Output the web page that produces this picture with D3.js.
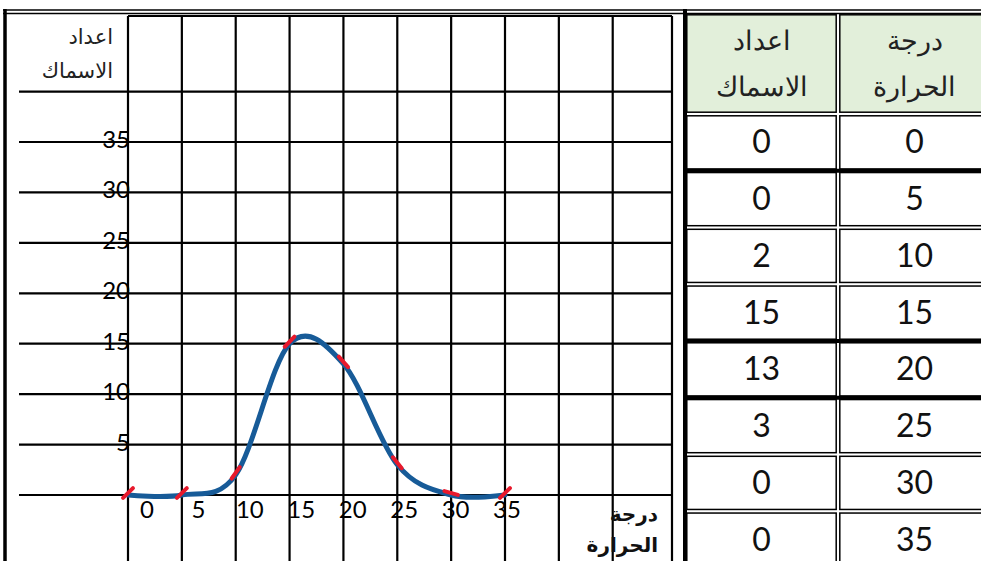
<!DOCTYPE html>
<html>
<head>
<meta charset="utf-8">
<script src="https://cdn.jsdelivr.net/npm/d3@7"></script>
<style>
  body { margin: 0; background: #fff; }
  svg { display: block; }
  text { font-family: Lato, "DejaVu Sans", sans-serif; }
  .ar { font-family: "DejaVu Sans", sans-serif; }
</style>
</head>
<body>
<svg id="chart" width="981" height="561"></svg>
<script>
// data from the table
const temps = [0, 5, 10, 15, 20, 25, 30, 35];
const fishCounts = [0, 0, 2, 15, 13, 3, 0, 0];

// axis / grid values
const xTickLabels = [0, 5, 10, 15, 20, 25, 30, 35];
const yTickLabels = [5, 10, 15, 20, 25, 30, 35];
const xGrid = [0, 5, 10, 15, 20, 25, 30, 35, 40, 45];
const yGrid = [0, 5, 10, 15, 20, 25, 30, 35, 40];

const yTitle = ["اعداد", "الاسماك"];
const xTitle = ["درجة", "الحرارة"];
const tableHead = [["اعداد", "الاسماك"], ["درجة", "الحرارة"]];

const svg = d3.select("#chart");
const W = 981, H = 561;

// ---- plot area ----
const plotLeft = 128, plotRight = 672, plotTop = 16, gridLeft = 19;
const x = d3.scaleLinear().domain([0, 35]).range([128, 505]);
const y = d3.scaleLinear().domain([0, 35]).range([495, 142]);
// the typed tick labels sit a little right of the grid lines
const xLab = d3.scaleLinear().domain([0, 35]).range([147, 507]);

// outer frame
svg.append("line").attr("x1", 5).attr("x2", 5).attr("y1", 9).attr("y2", H)
  .attr("stroke", "#000").attr("stroke-width", 3.5);
[10, 13.5].forEach(yy => {
  svg.append("line").attr("x1", 3).attr("x2", W).attr("y1", yy).attr("y2", yy)
    .attr("stroke", "#000").attr("stroke-width", 1.6);
});

const grid = svg.append("g").attr("stroke", "#000").attr("stroke-width", 2.2);
grid.selectAll(".h").data(yGrid).enter().append("line")
  .attr("x1", gridLeft).attr("x2", plotRight)
  .attr("y1", d => y(d)).attr("y2", d => y(d));
grid.append("line").attr("x1", plotLeft).attr("x2", plotRight)
  .attr("y1", plotTop).attr("y2", plotTop);
grid.selectAll(".v").data(xGrid).enter().append("line")
  .attr("x1", d => x(d)).attr("x2", d => x(d))
  .attr("y1", plotTop).attr("y2", H);
grid.append("line").attr("x1", plotRight).attr("x2", plotRight)
  .attr("y1", plotTop).attr("y2", H);

// y tick labels
svg.selectAll(".yl").data(yTickLabels).enter().append("text")
  .attr("x", plotLeft + 2).attr("y", d => y(d) + 6)
  .attr("text-anchor", "end").attr("font-size", 24).attr("fill", "#000")
  .text(d => d);

// x tick labels
svg.selectAll(".xl").data(xTickLabels).enter().append("text")
  .attr("x", d => xLab(d)).attr("y", 518)
  .attr("text-anchor", "middle").attr("font-size", 24).attr("fill", "#000")
  .text(d => d);

// axis titles
svg.selectAll(".yt").data(yTitle).enter().append("text")
  .attr("class", "ar").attr("direction", "rtl")
  .attr("x", 113).attr("y", (d, i) => 44 + i * 34)
  .attr("text-anchor", "start").attr("font-size", 21).attr("fill", "#222")
  .text(d => d);
svg.selectAll(".xt").data(xTitle).enter().append("text")
  .attr("class", "ar").attr("direction", "rtl")
  .attr("x", 658).attr("y", (d, i) => 521 + i * 31)
  .attr("text-anchor", "start").attr("font-size", 20).attr("font-weight", "bold")
  .attr("fill", "#111")
  .text(d => d);

// ---- hand drawn curve ----
const pts = temps.map((t, i) => [t, fishCounts[i]]);
const line = d3.line()
  .x(d => x(d[0])).y(d => y(d[1]))
  .curve(d3.curveCardinal.tension(0));

svg.append("path").datum(pts)
  .attr("d", line)
  .attr("fill", "none").attr("stroke", "#175b98").attr("stroke-width", 5)
  .attr("stroke-linecap", "round").attr("stroke-linejoin", "round");

// red marks at the plotted points
const marks = svg.append("g").attr("stroke", "#e8192c").attr("stroke-width", 4)
  .attr("stroke-linecap", "round");
pts.forEach((p, i) => {
  const a = pts[Math.max(0, i - 1)], b = pts[Math.min(pts.length - 1, i + 1)];
  let ang = Math.atan2(y(b[1]) - y(a[1]), x(b[0]) - x(a[0]));
  if (p[1] === 0 && (i === 0 || i === 1 || i === pts.length - 1)) ang = -Math.PI / 4;
  const len = 7;
  marks.append("line")
    .attr("x1", x(p[0]) - Math.cos(ang) * len).attr("y1", y(p[1]) - Math.sin(ang) * len - 2)
    .attr("x2", x(p[0]) + Math.cos(ang) * len).attr("y2", y(p[1]) + Math.sin(ang) * len - 2);
});

// ---- data table ----
const tblLeft = 685, colW = 153, headTop = 13, headBottom = 114;
const cols = d3.scaleBand().domain([0, 1]).range([tblLeft, tblLeft + 2 * colW]);
const rows = d3.scaleBand().domain(d3.range(temps.length)).range([headBottom, 568]);
const tableRows = temps.map((t, i) => [fishCounts[i], t]);
const pad = 1.8;

const tbl = svg.append("g");
// header cells
[0, 1].forEach(c => {
  tbl.append("rect")
    .attr("x", cols(c) + pad).attr("y", headTop + pad)
    .attr("width", cols.bandwidth() - 2 * pad).attr("height", headBottom - headTop - 2 * pad)
    .attr("fill", "#e2efda").attr("stroke", "#000").attr("stroke-width", 1.5);
  tableHead[c].forEach((s, k) => {
    tbl.append("text").attr("class", "ar")
      .attr("x", cols(c) + cols.bandwidth() / 2).attr("y", 50 + k * 46)
      .attr("text-anchor", "middle").attr("font-size", 27).attr("font-weight", 300)
      .attr("fill", "#222").text(s);
  });
});

// body cells
tableRows.forEach((r, i) => {
  r.forEach((v, c) => {
    tbl.append("rect")
      .attr("x", cols(c) + pad).attr("y", rows(i) + pad)
      .attr("width", cols.bandwidth() - 2 * pad).attr("height", rows.bandwidth() - 2 * pad)
      .attr("fill", "#fff").attr("stroke", "#000").attr("stroke-width", 1.5);
    tbl.append("text")
      .attr("x", cols(c) + cols.bandwidth() / 2).attr("y", rows(i) + rows.bandwidth() / 2 + 11)
      .attr("text-anchor", "middle").attr("font-size", 32).attr("fill", "#111")
      .text(v);
  });
});

// thick single row rules
[1, 4, 5].forEach(i => {
  tbl.append("line").attr("x1", tblLeft).attr("x2", W)
    .attr("y1", rows(i)).attr("y2", rows(i))
    .attr("stroke", "#000").attr("stroke-width", 4);
});
tbl.append("line").attr("x1", tblLeft).attr("x2", tblLeft)
  .attr("y1", 9).attr("y2", H).attr("stroke", "#000").attr("stroke-width", 4);
</script>
</body>
</html>
